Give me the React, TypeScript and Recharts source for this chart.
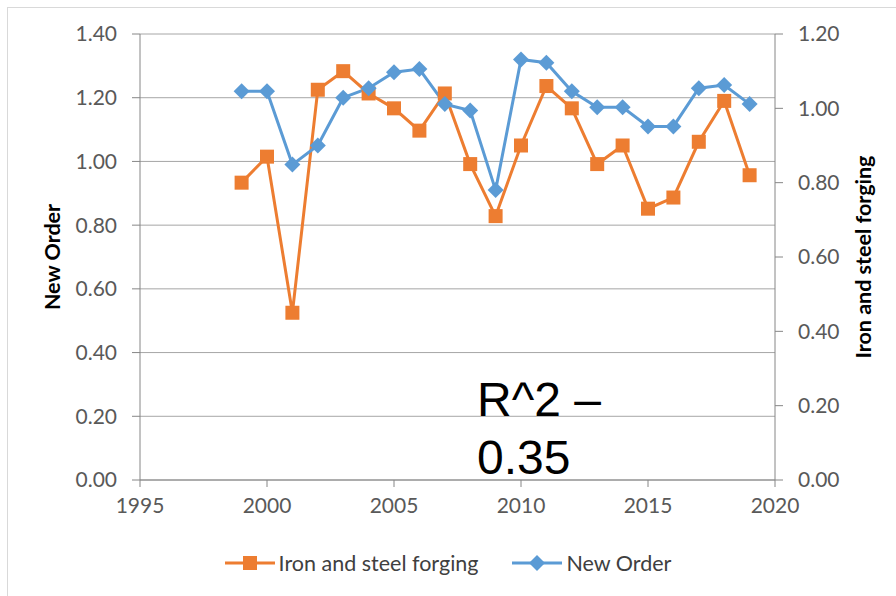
import { LineChart, Line, XAxis, YAxis, CartesianGrid, Legend } from 'recharts';

const years = [1999, 2000, 2001, 2002, 2003, 2004, 2005, 2006, 2007, 2008, 2009, 2010, 2011, 2012, 2013, 2014, 2015, 2016, 2017, 2018, 2019];
const forging = [0.80, 0.87, 0.45, 1.05, 1.10, 1.04, 1.00, 0.94, 1.04, 0.85, 0.71, 0.90, 1.06, 1.00, 0.85, 0.90, 0.73, 0.76, 0.91, 1.02, 0.82];
const newOrder = [1.22, 1.22, 0.99, 1.05, 1.20, 1.23, 1.28, 1.29, 1.18, 1.16, 0.91, 1.32, 1.31, 1.22, 1.17, 1.17, 1.11, 1.11, 1.23, 1.24, 1.18];

const xTicks = [1995, 2000, 2005, 2010, 2015, 2020];
const leftTicks = [0, 0.2, 0.4, 0.6, 0.8, 1.0, 1.2, 1.4];
const rightTicks = [0, 0.2, 0.4, 0.6, 0.8, 1.0, 1.2];

const data = years.map((y, i) => ({ year: y, forging: forging[i], newOrder: newOrder[i] }));

const ORANGE = '#ED7D31';
const BLUE = '#5B9BD5';
const FONT = 'Lato, "Open Sans", sans-serif';

// square marker for the forging series
const Square = (props: any) => {
  const { cx, cy } = props;
  if (cx == null || cy == null) return null;
  return <rect x={cx - 7} y={cy - 7} width={14} height={14} fill={ORANGE} />;
};

// diamond marker for new order
const Diamond = (props: any) => {
  const { cx, cy } = props;
  if (cx == null || cy == null) return null;
  const r = 8;
  return <polygon points={`${cx},${cy - r} ${cx + r},${cy} ${cx},${cy + r} ${cx - r},${cy}`} fill={BLUE} />;
};

const LegendBox = () => (
  <div style={{ display: 'flex', justifyContent: 'center', alignItems: 'center', fontFamily: FONT, fontSize: 21.5, color: '#404040', height: 26 }}>
    <svg width={50} height={16} style={{ marginRight: 4 }}>
      <line x1={0} y1={8} x2={50} y2={8} stroke={ORANGE} strokeWidth={3} />
      <rect x={18} y={1} width={14} height={14} fill={ORANGE} />
    </svg>
    <span style={{ marginRight: 34 }}>Iron and steel forging</span>
    <svg width={50} height={16} style={{ marginRight: 4 }}>
      <line x1={0} y1={8} x2={50} y2={8} stroke={BLUE} strokeWidth={3} />
      <polygon points="25,0 33,8 25,16 17,8" fill={BLUE} />
    </svg>
    <span>New Order</span>
  </div>
);

const axisTitle = (text: string, dx: number) => (props: any) => {
  const vb = props.viewBox || {};
  const x = vb.x + dx;
  const y = vb.y + vb.height / 2;
  return (
    <text x={x} y={y} transform={`rotate(-90 ${x} ${y})`} textAnchor="middle" dominantBaseline="central"
      fontFamily={FONT} fontWeight={700} fontSize={21.5} fill="#000">
      {text}
    </text>
  );
};

const tickStyle = { fontFamily: FONT, fontSize: 21, fill: '#595959' };

export default function App() {
  return (
    <div style={{ position: 'absolute', left: 0, top: 0, width: 896, height: 596, overflow: 'hidden', background: '#fff' }}>
      <div style={{ position: 'absolute', left: 7, top: 7, width: 920, height: 620, border: '1px solid #d9d9d9' }} />
      <LineChart width={896} height={596} data={data} margin={{ top: 34, right: 0, bottom: 20, left: 0 }}>
        <CartesianGrid vertical={false} stroke="#a6a6a6" yAxisId="left" />
        <XAxis dataKey="year" type="number" domain={[1995, 2020]} ticks={xTicks} height={70}
          stroke="#868686" tickSize={7} tickMargin={11} tick={tickStyle} />
        <YAxis yAxisId="left" domain={[0, 1.4]} ticks={leftTicks} width={140} stroke="#868686"
          tickSize={8} tickMargin={15} tick={tickStyle} tickFormatter={(v: number) => v.toFixed(2)}
          label={{ content: axisTitle('New Order', 52) }} />
        <YAxis yAxisId="right" orientation="right" domain={[0, 1.2]} ticks={rightTicks} width={121} stroke="#868686"
          tickSize={8} tickMargin={15} tick={{ ...tickStyle, textAnchor: 'start' }} tickFormatter={(v: number) => v.toFixed(2)}
          label={{ content: axisTitle('Iron and steel forging', 88) }} />
        <Line yAxisId="right" dataKey="forging" name="Iron and steel forging" stroke={ORANGE} strokeWidth={3}
          dot={<Square />} activeDot={false} isAnimationActive={false} />
        <Line yAxisId="left" dataKey="newOrder" name="New Order" stroke={BLUE} strokeWidth={3}
          dot={<Diamond />} activeDot={false} isAnimationActive={false} />
        <Legend verticalAlign="bottom" content={<LegendBox />} wrapperStyle={{ bottom: 20, height: 26 }} />
      </LineChart>
      <div style={{ position: 'absolute', left: 477, top: 371, fontFamily: '"Liberation Sans", Arial, sans-serif', fontSize: 48, lineHeight: '58px', color: '#000' }}>
        R^2 –<br />0.35
      </div>
    </div>
  );
}
